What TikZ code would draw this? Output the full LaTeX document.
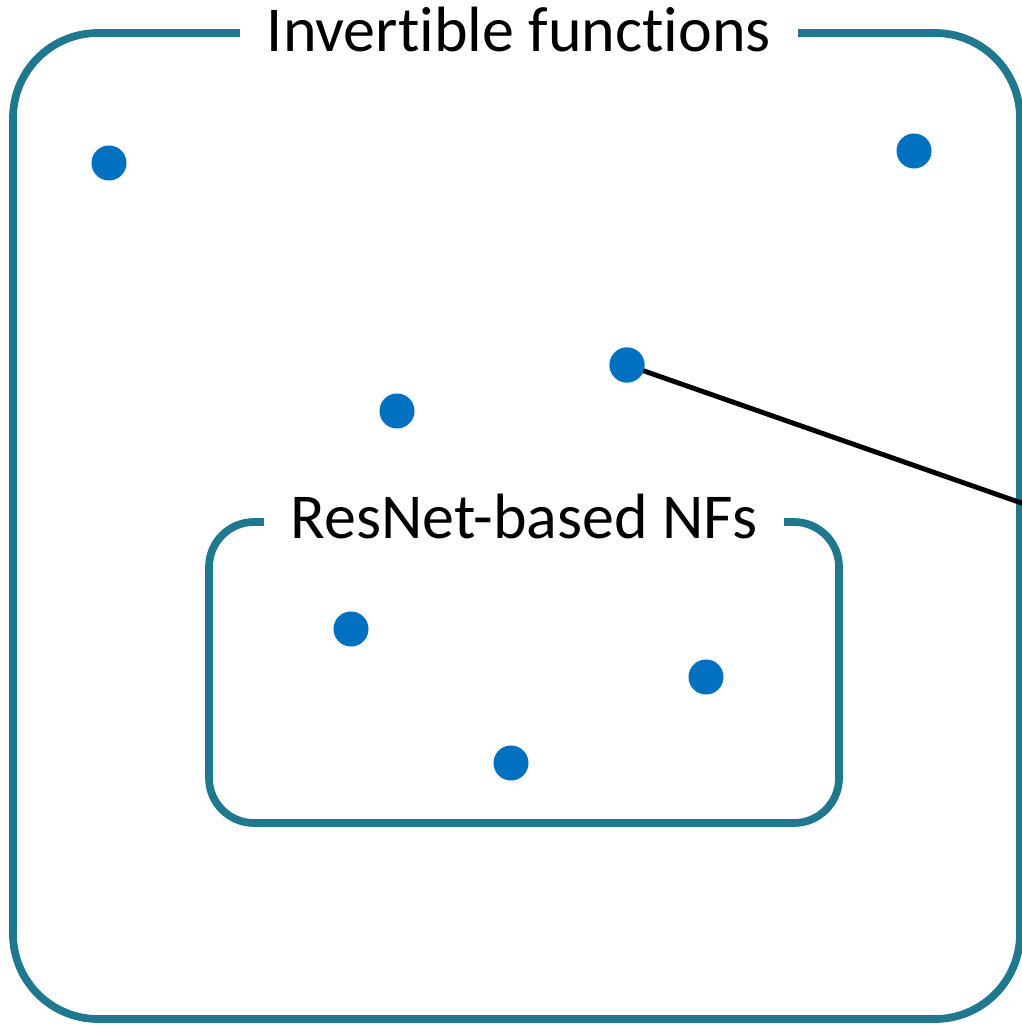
\documentclass[tikz,border=0pt]{standalone}
\usepackage{fontspec}
\setmainfont[Ligatures=NoCommon]{Carlito}
\usepackage{tikz}
\usetikzlibrary{calc}
\definecolor{frameteal}{RGB}{31,120,141}
\definecolor{dotblue}{RGB}{0,112,192}
\tikzstyle{frame} = [line width = 2.2pt, color = frameteal]
\tikzstyle{dot} = [circle, fill = dotblue, minimum size = 0.35cm, inner sep = 0pt]
\tikzstyle{setlabel} = [fill = white, anchor = base, inner xsep = 0.27cm, font = \fontsize{18.2}{21}\selectfont]

\begin{document}
\begin{tikzpicture}[x=0.01cm, y=-0.01cm]
		
		\useasboundingbox (0,0) rectangle (1022,1025);
		
		% Sets
		\draw[frame, rounded corners=0.85cm] (13,33) rectangle (1020,1019);
		\draw[frame, rounded corners=0.45cm] (209,522) rectangle (839,823);
		
		% Labels
		\node[setlabel] (invertible) at (519,52) {Invertible functions};
		\node[setlabel] (resnet) at (524,538) {ResNet-based NFs};
		
		% Functions
		\foreach \n/\x/\y in {a/109/163, b/914/151, c/627/365, d/397/411, e/351/629, f/706/677, g/511/763}
		{
			\node[dot] (\n) at (\x,\y) {};
		}
		
		% Pointer
		\coordinate (out) at (1030,506);
		\draw[line width = 1.4pt] (c.center) -- (out);
		\node[dot] at (c) {};
	\end{tikzpicture}
\end{document}
